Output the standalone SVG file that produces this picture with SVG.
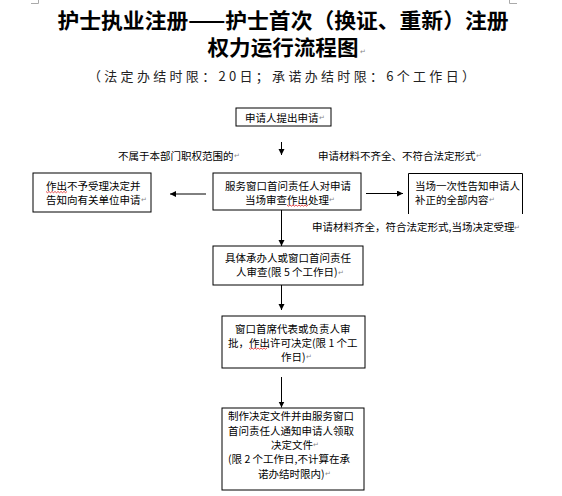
<svg xmlns="http://www.w3.org/2000/svg" width="562" height="496" viewBox="0 0 562 496">
<defs>
<style>
.bx{fill:#fff;stroke:#000;stroke-width:1}
.t{font-family:"Noto Sans CJK SC","Noto Sans",sans-serif;font-size:10.5px;fill:#000;dominant-baseline:central}
.pm{font-size:7px;fill:#888}
.c{stroke:#000;stroke-width:1;fill:none}
.sq{stroke:#e02020;stroke-width:0.8;fill:none}
.tt{font-family:"Noto Sans CJK SC",sans-serif;font-weight:bold;font-size:21px;fill:#000;dominant-baseline:central}
.st{font-family:"Noto Sans CJK SC",sans-serif;font-size:13px;fill:#222;dominant-baseline:central}
.cm{stroke:#aaa;stroke-width:1;fill:none}
</style>
<marker id="ah" markerWidth="7" markerHeight="7" refX="6" refY="3" orient="auto" markerUnits="userSpaceOnUse">
<path d="M0,0 L6,3 L0,6 z" fill="#000"/>
</marker>
</defs>
<rect width="562" height="496" fill="#fff"/>
<path class="cm" d="M31,3.5 H38.5 V0 M509.5,0 V3.5 H517"/>
<g id="title">
<text class="tt" x="283" y="18.5" text-anchor="middle" textLength="451" lengthAdjust="spacingAndGlyphs">护士执业注册——护士首次（换证、重新）注册</text>
<text class="tt" x="283" y="46" text-anchor="middle" textLength="151" lengthAdjust="spacingAndGlyphs">权力运行流程图</text>
<text class="t pm" x="360" y="51">↵</text>
<text class="st" x="88" y="75" textLength="387" lengthAdjust="spacing">（法定办结时限：20日；承诺办结时限：6个工作日）</text>
</g>
<g id="connectors">
<line class="c" x1="281.5" y1="142" x2="281.5" y2="155" marker-end="url(#ah)"/>
<line class="c" x1="206" y1="194" x2="170" y2="194" marker-end="url(#ah)"/>
<line class="c" x1="366" y1="193.5" x2="403" y2="193.5" marker-end="url(#ah)"/>
<line class="c" x1="281.5" y1="210" x2="281.5" y2="246" marker-end="url(#ah)"/>
<line class="c" x1="281.5" y1="285" x2="281.5" y2="310" marker-end="url(#ah)"/>
<line class="c" x1="281.5" y1="377" x2="281.5" y2="407.5" marker-end="url(#ah)"/>
</g>
<g id="labels">
<text class="t" x="118" y="155">不属于本部门职权范围的<tspan class="pm">↵</tspan></text>
<text class="t" x="318" y="155">申请材料不齐全、不符合法定形式<tspan class="pm">↵</tspan></text>
<text class="t" x="312" y="226.5">申请材料齐全，符合法定形式,当场决定受理<tspan class="pm">↵</tspan></text>
</g>
<g id="n1">
<rect class="bx" x="236" y="108" width="95" height="18"/>
<text class="t" x="245" y="117">申请人提出申请<tspan class="pm">↵</tspan></text>
</g>
<g id="n2">
<rect class="bx" x="213" y="173" width="148" height="37"/>
<text class="t" x="225" y="185">服务窗口首问责任人对申请</text>
<text class="t" x="245" y="199">当场审查作出处理<tspan class="pm">↵</tspan></text>
<path class="sq" d="M287,205 l1.5,1.2 l1.5,-1.2 l1.5,1.2 l1.5,-1.2 l1.5,1.2 l1.5,-1.2 l1.5,1.2 l1.5,-1.2 l1.5,1.2 l1.5,-1.2 l1.5,1.2 l1.5,-1.2 l1.5,1.2 l1.5,-1.2"/>
</g>
<g id="n3">
<rect class="bx" x="33" y="173" width="118" height="39"/>
<text class="t" x="46" y="185">作出不予受理决定并</text>
<text class="t" x="46" y="199">告知向有关单位申请<tspan class="pm">↵</tspan></text>
<path class="sq" d="M46,191.5 l1.5,1.2 l1.5,-1.2 l1.5,1.2 l1.5,-1.2 l1.5,1.2 l1.5,-1.2 l1.5,1.2 l1.5,-1.2 l1.5,1.2 l1.5,-1.2 l1.5,1.2 l1.5,-1.2 l1.5,1.2 l1.5,-1.2"/>
</g>
<g id="n4">
<path class="bx" d="M408.5,214 V173.5 H522.5 V214" style="fill:#fff"/>
<text class="t" x="415" y="185">当场一次性告知申请人</text>
<text class="t" x="415" y="199">补正的全部内容<tspan class="pm">↵</tspan></text>
</g>
<g id="n5">
<rect class="bx" x="213" y="246" width="150" height="39"/>
<text class="t" x="225" y="257.5">具体承办人或窗口首问责任</text>
<text class="t" x="236" y="271.5">人审查(限 5 个工作日)<tspan class="pm">↵</tspan></text>
</g>
<g id="n6">
<rect class="bx" x="222" y="316" width="143" height="52"/>
<text class="t" x="235" y="328">窗口首席代表或负责人审</text>
<text class="t" x="228" y="342">批，作出许可决定(限 1 个工</text>
<text class="t" x="281" y="356">作日)<tspan class="pm">↵</tspan></text>
<path class="sq" d="M249,348 l1.5,1.2 l1.5,-1.2 l1.5,1.2 l1.5,-1.2 l1.5,1.2 l1.5,-1.2 l1.5,1.2 l1.5,-1.2 l1.5,1.2 l1.5,-1.2 l1.5,1.2 l1.5,-1.2"/>
</g>
<g id="n7">
<rect class="bx" x="222" y="408" width="142" height="82"/>
<text class="t" x="228" y="415.5">制作决定文件并由服务窗口</text>
<text class="t" x="228" y="430">首问责任人通知申请人领取</text>
<text class="t" x="271" y="444">决定文件<tspan class="pm">↵</tspan></text>
<text class="t" x="228" y="458.5">(限 2 个工作日,不计算在承</text>
<text class="t" x="258" y="473">诺办结时限内)<tspan class="pm">↵</tspan></text>
</g>
</svg>
